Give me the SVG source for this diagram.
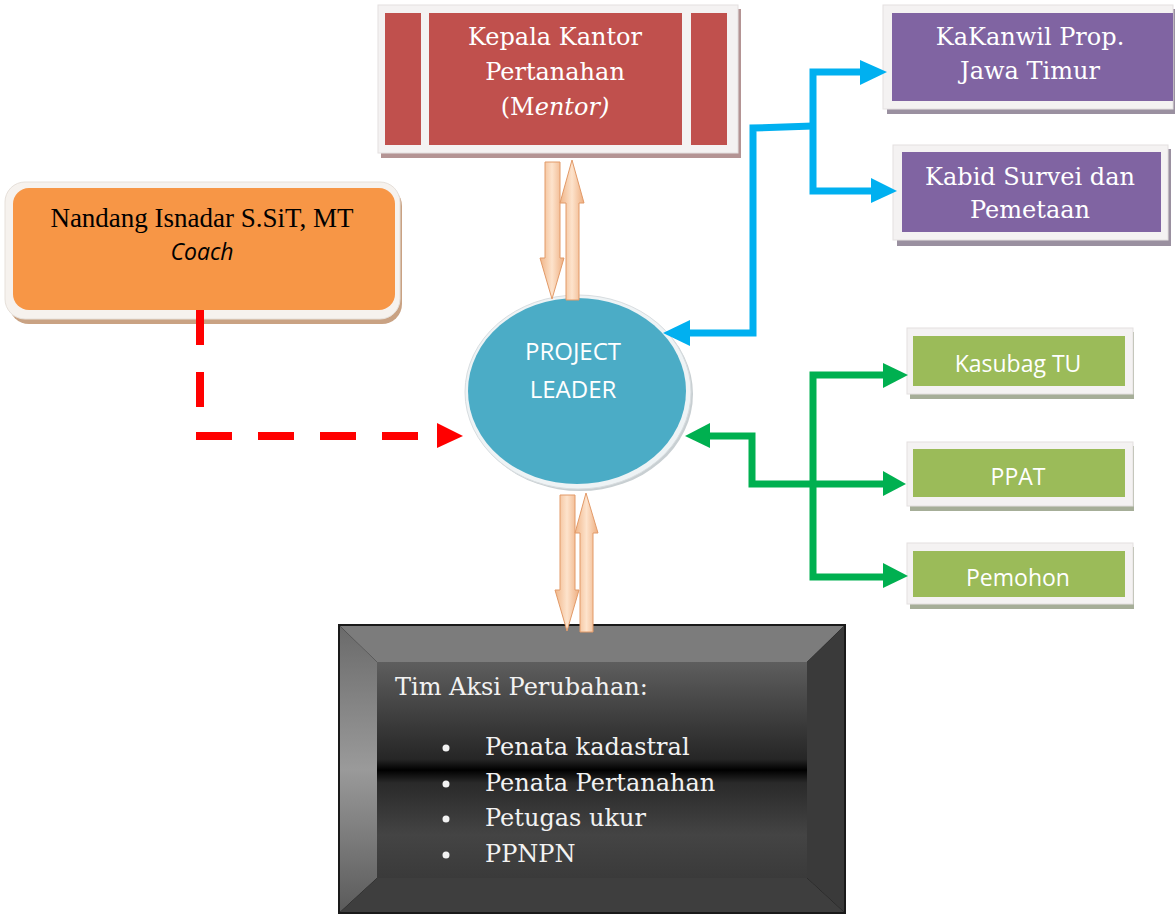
<svg xmlns="http://www.w3.org/2000/svg" width="1175" height="916" viewBox="0 0 1175 916">
<style>
.serifw{font-family:"DejaVu Serif","Liberation Serif",serif;font-size:24px;fill:#ffffff;text-anchor:middle}
.sansw{font-family:"Open Sans","Liberation Sans",sans-serif;font-size:23px;fill:#ffffff;text-anchor:middle}
.frame{fill:#f4f2f2;stroke:#e4e0e0;stroke-width:1}
.blue{fill:none;stroke:#00b0f0;stroke-width:7}
.green{fill:none;stroke:#00b050;stroke-width:7}
.red{fill:none;stroke:#ff0000;stroke-width:8}
.peach{fill:url(#peachg);stroke:#e29a68;stroke-width:1}
.list{font-family:"DejaVu Serif","Liberation Serif",serif;font-size:24px;fill:#f2f2f2}
</style>
<defs>
<linearGradient id="peachg" x1="0" y1="0" x2="1" y2="0">
<stop offset="0" stop-color="#f0b588"/>
<stop offset="0.5" stop-color="#fde3cc"/>
<stop offset="1" stop-color="#eeae80"/>
</linearGradient>
<linearGradient id="innerg" x1="0" y1="0" x2="0" y2="1">
<stop offset="0" stop-color="#5e5e5e"/>
<stop offset="0.45" stop-color="#262626"/>
<stop offset="0.5" stop-color="#000000"/>
<stop offset="0.56" stop-color="#2a2a2a"/>
<stop offset="0.8" stop-color="#444444"/>
<stop offset="1" stop-color="#3a3a3a"/>
</linearGradient>
<linearGradient id="leftg" x1="0" y1="0" x2="0" y2="1">
<stop offset="0" stop-color="#6a6a6a"/>
<stop offset="0.5" stop-color="#9a9a9a"/>
<stop offset="1" stop-color="#5a5a5a"/>
</linearGradient>
</defs>

<g id="kepala-kantor">
<rect x="381" y="9" width="360" height="149" fill="#b49494"/>
<rect x="378" y="5" width="360" height="148" class="frame"/>
<rect x="385" y="13" width="36" height="132" fill="#c0504d"/>
<rect x="429" y="13" width="253" height="132" fill="#c0504d"/>
<rect x="691" y="13" width="36" height="132" fill="#c0504d"/>
<text class="serifw" x="555" y="45">Kepala Kantor</text>
<text class="serifw" x="555" y="80">Pertanahan</text>
<text class="serifw" x="555" y="115">(M<tspan font-style="italic">entor)</tspan></text>
</g>

<g id="coach">
<rect x="9" y="186" width="393" height="138" rx="20" fill="#c9a283"/>
<rect x="5" y="182" width="395" height="137" rx="20" fill="#f6f2ee" stroke="#e6e0da"/>
<rect x="13" y="188" width="382" height="122" rx="16" fill="#f79646"/>
<text x="202" y="227" font-family="'Liberation Serif','Times New Roman',serif" font-size="27" fill="#000" text-anchor="middle">Nandang Isnadar S.SiT, MT</text>
<text x="202" y="260" font-family="'Open Sans','Liberation Sans',sans-serif" font-size="23" font-style="italic" fill="#000" text-anchor="middle">Coach</text>
</g>

<g id="project-leader">
<ellipse cx="580" cy="394" rx="113" ry="97" fill="#c8cfd2"/>
<ellipse cx="578" cy="392" rx="113" ry="97" fill="#eef3f5" stroke="#d8dde0"/>
<ellipse cx="577" cy="391" rx="109" ry="93" fill="#4bacc6"/>
<text class="sansw" x="573" y="360" style="font-size:24px">PROJECT</text>
<text class="sansw" x="573" y="398" style="font-size:24px">LEADER</text>
</g>

<g id="kakanwil">
<rect x="887" y="9" width="288" height="105" fill="#9a90a0"/>
<rect x="883" y="5" width="290" height="104" class="frame"/>
<rect x="892" y="13" width="281" height="88" fill="#8064a2"/>
<text class="serifw" x="1030" y="45">KaKanwil Prop.</text>
<text class="serifw" x="1030" y="79">Jawa Timur</text>
</g>

<g id="kabid">
<rect x="897" y="149" width="274" height="97" fill="#9a90a0"/>
<rect x="893" y="145" width="275" height="95" class="frame"/>
<rect x="902" y="152" width="259" height="80" fill="#8064a2"/>
<text class="serifw" x="1030" y="185">Kabid Survei dan</text>
<text class="serifw" x="1030" y="218">Pemetaan</text>
</g>

<g id="kasubag">
<rect x="910" y="332" width="224" height="67" fill="#a6ae98"/>
<rect x="907" y="328" width="226" height="66" class="frame"/>
<rect x="913" y="336" width="212" height="50" fill="#9bbb59"/>
<text class="sansw" x="1018" y="372">Kasubag TU</text>
</g>

<g id="ppat">
<rect x="910" y="446" width="224" height="65" fill="#a6ae98"/>
<rect x="907" y="442" width="226" height="64" class="frame"/>
<rect x="913" y="449" width="212" height="48" fill="#9bbb59"/>
<text class="sansw" x="1018" y="485">PPAT</text>
</g>

<g id="pemohon">
<rect x="910" y="547" width="224" height="62" fill="#a6ae98"/>
<rect x="907" y="543" width="226" height="61" class="frame"/>
<rect x="913" y="551" width="212" height="46" fill="#9bbb59"/>
<text class="sansw" x="1018" y="586">Pemohon</text>
</g>

<g id="tim-aksi">
<rect x="339" y="625" width="506" height="288" fill="#000"/>
<polygon points="339,625 845,625 807,662 377,662" fill="#7c7c7c"/>
<polygon points="339,625 377,662 377,878 339,913" fill="url(#leftg)"/>
<polygon points="845,625 845,913 807,878 807,662" fill="#3a3a3a"/>
<polygon points="339,913 845,913 807,878 377,878" fill="#3e3e3e"/>
<rect x="377" y="662" width="430" height="216" fill="url(#innerg)"/>
<rect x="339" y="625" width="506" height="288" fill="none" stroke="#1a1a1a" stroke-width="2"/>
<text class="list" x="395" y="695">Tim Aksi Perubahan:</text>
<g fill="#f2f2f2">
<circle cx="446" cy="748" r="3.5"/>
<circle cx="446" cy="784" r="3.5"/>
<circle cx="446" cy="819" r="3.5"/>
<circle cx="446" cy="855" r="3.5"/>
</g>
<text class="list" x="485" y="755">Penata kadastral</text>
<text class="list" x="485" y="791">Penata Pertanahan</text>
<text class="list" x="485" y="826">Petugas ukur</text>
<text class="list" x="485" y="862">PPNPN</text>
</g>

<g id="connectors">
<polygon class="peach" points="545,162 560,162 560,258 564,258 552,299 540,258 545,258"/>
<polygon class="peach" points="566,300 579,300 579,203 584,203 572,160 560,203 566,203"/>
<polygon class="peach" points="560,495 575,495 575,590 579,590 567,631 555,590 560,590"/>
<polygon class="peach" points="580,632 593,632 593,533 598,533 586,493 575,533 580,533"/>
<path class="blue" d="M862,72 H813 V191 H872"/>
<path class="blue" d="M813,126 L753,128 V333 H688"/>
<polygon points="860,60 887,72 860,85" fill="#00b0f0"/>
<polygon points="871,178 897,191 871,203" fill="#00b0f0"/>
<polygon points="690,320 663,333 690,346" fill="#00b0f0"/>
<path class="green" d="M884,375 H813 V577 H884"/>
<path class="green" d="M884,484 H752 V436 H710"/>
<polygon points="883,363 908,375 883,388" fill="#00b050"/>
<polygon points="883,471 906,484 883,496" fill="#00b050"/>
<polygon points="883,563 908,576 883,588" fill="#00b050"/>
<polygon points="710,423 685,436 710,448" fill="#00b050"/>
<path class="red" d="M200,310 V408" stroke-dasharray="35 27"/>
<path class="red" d="M196,436 H420" stroke-dasharray="36 26"/>
<polygon points="437,423 463,436 437,448" fill="#ff0000"/>
</g>
</svg>
